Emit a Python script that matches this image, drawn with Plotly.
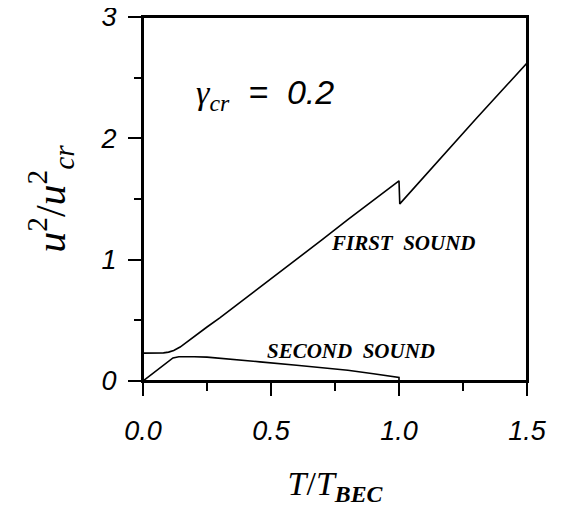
import plotly.graph_objects as go

# First sound u^2/u_cr^2 vs T/T_BEC
first_T = [0.0, 0.05, 0.08, 0.10, 0.12, 0.145, 0.17, 0.20, 0.25, 0.30, 0.40, 0.50, 0.60,
           0.70, 0.80, 0.90, 1.00, 1.003, 1.10, 1.20, 1.30, 1.40, 1.50]
first_u = [0.23, 0.23, 0.232, 0.238, 0.252, 0.28, 0.32, 0.365, 0.445, 0.52, 0.68, 0.84, 1.00,
           1.165, 1.33, 1.49, 1.65, 1.46, 1.69, 1.92, 2.16, 2.39, 2.62]

# Second sound
second_T = [0.0, 0.03, 0.066, 0.10, 0.117, 0.14, 0.16, 0.20, 0.25, 0.35, 0.457, 0.60, 0.70,
            0.80, 0.90, 0.99, 1.0, 1.0]
second_u = [0.0, 0.05, 0.107, 0.165, 0.19, 0.20, 0.202, 0.20, 0.197, 0.18, 0.158, 0.13, 0.11,
            0.088, 0.06, 0.032, 0.03, 0.0]

x_major = [0.0, 0.5, 1.0, 1.5]
x_major_text = ["0.0", "0.5", "1.0", "1.5"]
x_minor = [0.25, 0.75, 1.25]
y_major = [0, 1, 2, 3]
y_major_text = ["0", "1", "2", "3"]
y_minor = [0.5, 1.5, 2.5]

fig = go.Figure()
fig.add_trace(go.Scatter(x=first_T, y=first_u, mode="lines",
                         line=dict(color="black", width=1.6), showlegend=False))
fig.add_trace(go.Scatter(x=second_T, y=second_u, mode="lines",
                         line=dict(color="black", width=1.6), showlegend=False))

sans_it = dict(family="Liberation Sans, Arial, sans-serif", size=27, color="black", style="italic")
serif = "Liberation Serif, Times New Roman, serif"

fig.update_xaxes(range=[0, 1.5], showgrid=False, zeroline=False, automargin=False,
                 showline=True, linecolor="black", linewidth=2, mirror=True,
                 ticks="outside", ticklen=13, tickwidth=2, tickcolor="black",
                 tickvals=x_major, ticktext=x_major_text, tickfont=sans_it,
                 ticklabelstandoff=12, ticklabeloverflow="allow",
                 minor=dict(tickvals=x_minor, ticks="outside", ticklen=8, tickwidth=2, tickcolor="black"),
                 title=dict(text="<i>T</i>/<i>T</i><sub><b><i>BEC</i></b></sub>",
                            font=dict(family=serif, size=34, color="black"), standoff=26))
fig.update_yaxes(range=[0, 3], showgrid=False, zeroline=False, automargin=False,
                 showline=True, linecolor="black", linewidth=2, mirror=True,
                 ticks="outside", ticklen=13, tickwidth=2, tickcolor="black",
                 tickvals=y_major, ticktext=y_major_text, tickfont=sans_it,
                 ticklabelstandoff=6, ticklabeloverflow="allow",
                 minor=dict(tickvals=y_minor, ticks="outside", ticklen=7, tickwidth=2, tickcolor="black"),
                 title=dict(text="<i>u</i><sup>2</sup>/<i>u</i><sup>2</sup><sub><i>cr</i></sub>",
                            font=dict(family=serif, size=42, color="black"), standoff=22))

# plot frame
fig.add_shape(type="rect", xref="paper", yref="paper", x0=0, x1=1, y0=0, y1=1,
              line=dict(color="black", width=2), layer="above")

fig.add_annotation(x=0.477, y=2.36, xref="x", yref="y", showarrow=False,
                   text="<i>γ</i><sub><i>cr</i></sub><span style='font-family:Liberation Sans'><i>  =  0.2</i></span>",
                   font=dict(family=serif, size=34, color="black"))
fig.add_annotation(x=1.016, y=1.14, xref="x", yref="y", showarrow=False,
                   text="<b><i>FIRST  SOUND</i></b>",
                   font=dict(family=serif, size=21, color="black"))
fig.add_annotation(x=0.8125, y=0.245, xref="x", yref="y", showarrow=False,
                   text="<b><i>SECOND  SOUND</i></b>",
                   font=dict(family=serif, size=21, color="black"))

fig.update_layout(width=553, height=500, margin=dict(l=135, r=34, t=9, b=127),
                  plot_bgcolor="white", paper_bgcolor="white")

fig.write_html("out.html")
